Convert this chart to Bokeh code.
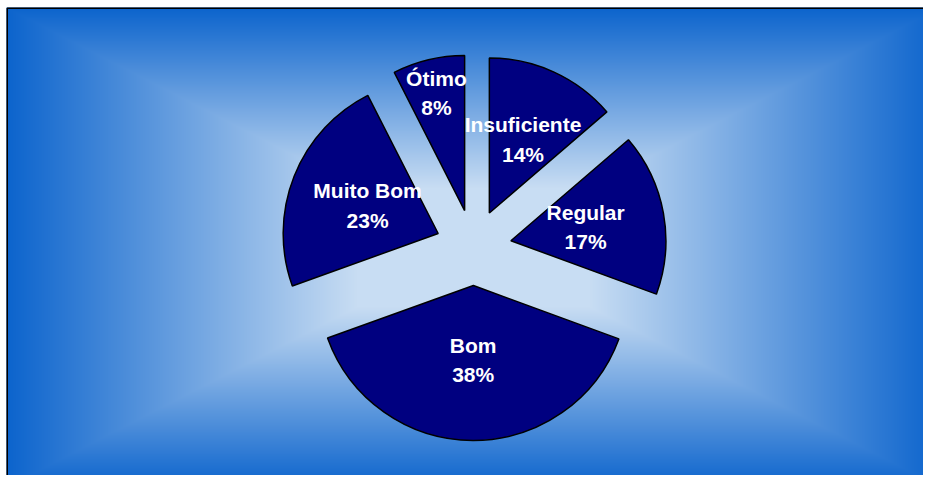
import numpy as np
from bokeh.plotting import figure
from bokeh.models import Range1d, ColumnDataSource
from bokeh.core.properties import value
from bokeh.embed import file_html
from bokeh.resources import INLINE

# ---- data ----
categories = ["Insuficiente", "Regular", "Bom", "Muito Bom", "Ótimo"]
values = [13.7, 16.9, 38.9, 23.0, 7.5]
pct_labels = ["14%", "17%", "38%", "23%", "8%"]

# ---- layout / style ----
W, H = 923, 475
LEFT, TOP = 6, 7            # chart area border (screen px)
CX, CY = 473, H - 247       # pie centre in data units (1 unit = 1 px)
R = 155
EXPLODE = 38
LABEL_R = [0.52, 0.49, 0.48, 0.49, 0.78]
LINE_GAP = 14.75
FONT = value("Liberation Sans")

frac = np.array(values, dtype=float) / sum(values)
cum = np.concatenate([[0.0], np.cumsum(frac)])
th1 = cum[:-1] * 2 * np.pi  # clockwise from top
th2 = cum[1:] * 2 * np.pi
mid = (th1 + th2) / 2
ox = CX + EXPLODE * np.sin(mid)
oy = CY + EXPLODE * np.cos(mid)
start = np.pi / 2 - th2
end = np.pi / 2 - th1
lr = np.array(LABEL_R) * R
lx = ox + lr * np.sin(mid)
ly = oy + lr * np.cos(mid)

src = ColumnDataSource(dict(x=ox, y=oy, start=start, end=end,
                            lx=lx, ly_name=ly + LINE_GAP, ly_pct=ly - LINE_GAP,
                            name=categories, pct=pct_labels))

p = figure(width=W, height=H, x_range=Range1d(0, W), y_range=Range1d(0, H),
           output_backend="svg", toolbar_location=None, min_border=0)
p.axis.visible = False
p.grid.visible = False
p.outline_line_color = None
p.background_fill_color = "white"
p.border_fill_color = "white"

# background: rectangular "from center" gradient
BW, BH = W - LEFT, H - TOP
yy, xx = np.mgrid[0:BH, 0:BW] + 0.5
xx = xx + LEFT
t = np.maximum(np.abs(xx - CX) / 467.0, np.abs(yy - CY) / 240.0)
f = np.clip((t - 0.25) / 0.75, 0, 1)
c0 = np.array([200, 221, 243], dtype=float)
c1 = np.array([12, 100, 205], dtype=float)
rgb = c0[None, None, :] + (c1 - c0)[None, None, :] * f[..., None]
img = np.empty((BH, BW), dtype=np.uint32)
view = img.view(dtype=np.uint8).reshape((BH, BW, 4))
view[..., 0] = rgb[..., 0].astype(np.uint8)
view[..., 1] = rgb[..., 1].astype(np.uint8)
view[..., 2] = rgb[..., 2].astype(np.uint8)
view[..., 3] = 255
p.image_rgba(image=[img], x=LEFT, y=0, dw=BW, dh=BH)

# chart-area border (left and top edges; right/bottom lie outside the window)
p.line(x=[LEFT + 0.75, LEFT + 0.75, W], y=[0, H - TOP - 0.75, H - TOP - 0.75],
       line_color="black", line_width=1.5)

p.wedge(x="x", y="y", radius=R, start_angle="start", end_angle="end",
        direction="anticlock", fill_color="#000080", line_color="black",
        line_width=1.5, source=src)

p.text(x="lx", y="ly_name", text="name", source=src, text_color="white",
       text_font=FONT, text_font_style="bold", text_font_size="21px",
       text_align="center", text_baseline="middle")
p.text(x="lx", y="ly_pct", text="pct", source=src, text_color="white",
       text_font=FONT, text_font_style="bold", text_font_size="21px",
       text_align="center", text_baseline="middle")

open("out.html", "w").write(file_html(p, INLINE))
